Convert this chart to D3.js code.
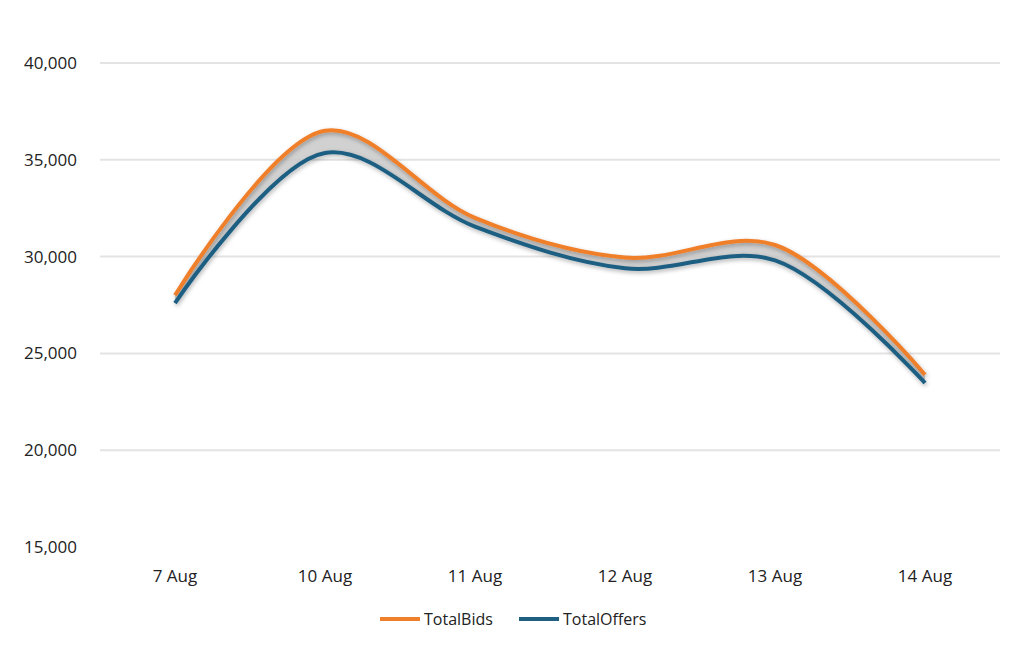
<!DOCTYPE html>
<html><head><meta charset="utf-8">
<script src="https://cdn.jsdelivr.net/npm/d3@7"></script>
<style>body{margin:0;background:#fff;font-family:"Open Sans",sans-serif}</style>
</head><body>
<svg id="chart" width="1024" height="651"></svg>
<script>
var categories = ['7 Aug','10 Aug','11 Aug','12 Aug','13 Aug','14 Aug'];
var totalBids = [28000,36500,32000,29950,30600,23900];
var totalOffers = [27600,35350,31550,29400,29800,23470];
var yTicks = [15000,20000,25000,30000,35000,40000];

var svg = d3.select('#chart');
var x = d3.scaleBand().domain(categories).range([100,1000]);
var y = d3.scaleLinear().domain([15000,40000]).range([547,63]);
var cx = function(d,i){ return x(categories[i]) + x.bandwidth()/2; };
var curve = d3.curveCatmullRom.alpha(0.5);

svg.append('g').selectAll('line').data(yTicks.slice(1)).join('line')
  .attr('x1',100).attr('x2',1000)
  .attr('y1',d=>y(d)).attr('y2',d=>y(d))
  .attr('stroke','#e3e3e3').attr('stroke-width',2);

svg.append('g').selectAll('text').data(yTicks).join('text')
  .attr('x',77).attr('y',d=>y(d)+6).attr('text-anchor','end')
  .attr('font-size',17).attr('fill','#222').text(d3.format(','));

svg.append('g').selectAll('text').data(categories).join('text')
  .attr('x',(d)=>x(d)+x.bandwidth()/2).attr('y',582).attr('text-anchor','middle')
  .attr('font-size',17).attr('fill','#222').text(d=>d);

var defs = svg.append('defs');
var f = defs.append('filter').attr('id','sh').attr('x','-10%').attr('y','-10%').attr('width','120%').attr('height','130%');
f.append('feDropShadow').attr('dx',1).attr('dy',2).attr('stdDeviation',2).attr('flood-color','#000').attr('flood-opacity',0.3);

var area = d3.area().x(cx).y0((d,i)=>y(totalOffers[i])).y1(d=>y(d)).curve(curve);
svg.append('path').datum(totalBids).attr('d',area).attr('fill','#c9c9c9').attr('opacity',0.85);

var line = d3.line().x(cx).y(d=>y(d)).curve(curve);
svg.append('path').datum(totalBids).attr('d',line).attr('fill','none')
  .attr('stroke','#f07f2b').attr('stroke-width',4).attr('filter','url(#sh)');
svg.append('path').datum(totalOffers).attr('d',line).attr('fill','none')
  .attr('stroke','#1f5f82').attr('stroke-width',4).attr('filter','url(#sh)');

var legend = [['TotalBids','#f07f2b',380],['TotalOffers','#1f5f82',519]];
legend.forEach(function(l){
  svg.append('line').attr('x1',l[2]).attr('x2',l[2]+40).attr('y1',619).attr('y2',619)
    .attr('stroke',l[1]).attr('stroke-width',4);
  svg.append('text').attr('x',l[2]+44).attr('y',625).attr('font-size',16).attr('fill','#222').text(l[0]);
});
</script>
</body></html>
